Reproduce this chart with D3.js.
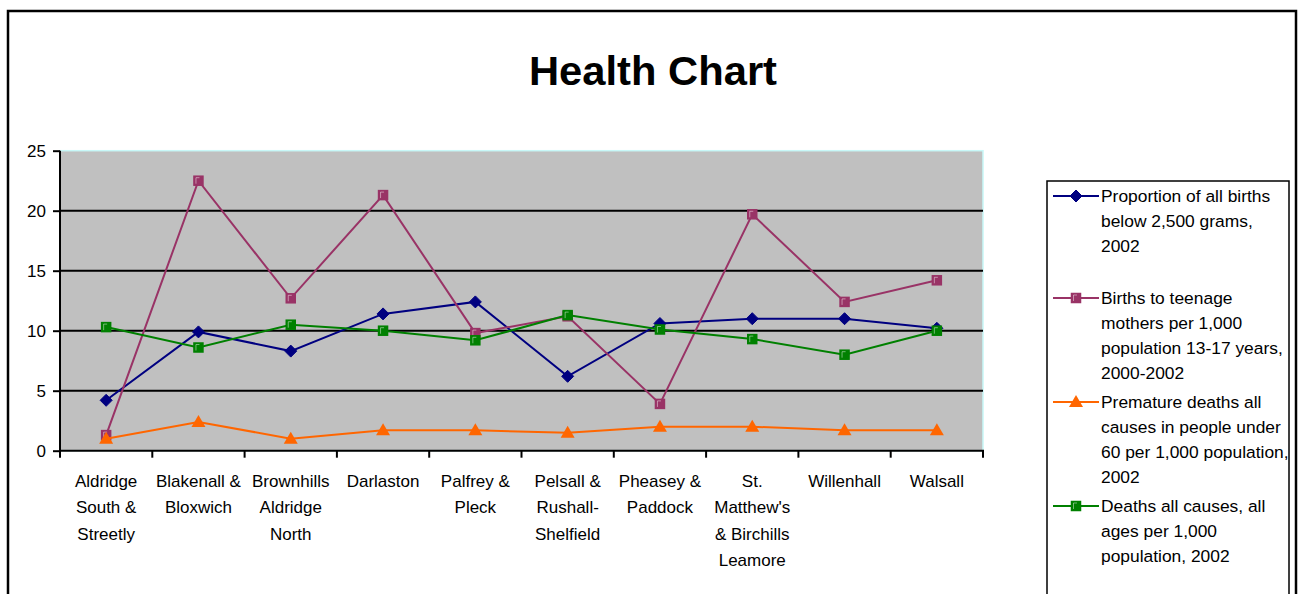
<!DOCTYPE html>
<html>
<head>
<meta charset="utf-8">
<script src="https://cdn.jsdelivr.net/npm/d3@7"></script>
<style>
  body { margin: 0; background: #fff; }
  svg { display: block; font-family: Arial, "Liberation Sans", sans-serif; }
</style>
</head>
<body>
<div id="chart"></div>
<script>
let width = 1299;
let height = 594;

// categories (line breaks as in the original axis)
const categories = [
  "Aldridge\nSouth &\nStreetly",
  "Blakenall &\nBloxwich",
  "Brownhills\nAldridge\nNorth",
  "Darlaston",
  "Palfrey &\nPleck",
  "Pelsall &\nRushall-\nShelfield",
  "Pheasey &\nPaddock",
  "St.\nMatthew's\n& Birchills\nLeamore",
  "Willenhall",
  "Walsall"
];

const lowBirthWeight = [4.2, 9.9, 8.3, 11.4, 12.4, 6.2, 10.6, 11.0, 11.0, 10.2];
const teenBirths     = [1.3, 22.5, 12.7, 21.3, 9.8, 11.2, 3.9, 19.7, 12.4, 14.2];
const prematureDeaths = [1.0, 2.4, 1.0, 1.7, 1.7, 1.5, 2.0, 2.0, 1.7, 1.7];
const allDeaths      = [10.3, 8.6, 10.5, 10.0, 9.2, 11.3, 10.1, 9.3, 8.0, 10.0];

const seriesNames = [
  "Proportion of all births\nbelow 2,500 grams,\n2002",
  "Births to teenage\nmothers per 1,000\npopulation 13-17 years,\n2000-2002",
  "Premature deaths all\ncauses in people under\n60 per 1,000 population,\n2002",
  "Deaths all causes, all\nages per 1,000\npopulation, 2002"
];
const yTicks = [0, 5, 10, 15, 20, 25];

const series = [
  {name: seriesNames[0], values: lowBirthWeight, color: "#000080", marker: "diamond"},
  {name: seriesNames[1], values: teenBirths, color: "#993366", marker: "square"},
  {name: seriesNames[2], values: prematureDeaths, color: "#FF6600", marker: "triangle"},
  {name: seriesNames[3], values: allDeaths, color: "#008000", marker: "square"}
];

const plot = {left: 60, right: 983, top: 150.7, bottom: 450.7};

const svg = d3.select("#chart").append("svg")
  .attr("width", width)
  .attr("height", height);

// outer frame
svg.append("rect")
  .attr("x", 8).attr("y", 11)
  .attr("width", 1288).attr("height", 620)
  .attr("fill", "#fff")
  .attr("stroke", "#000").attr("stroke-width", 2.5);

svg.append("text")
  .attr("x", 653).attr("y", 85)
  .attr("text-anchor", "middle")
  .attr("textLength", 248)
  .attr("lengthAdjust", "spacingAndGlyphs")
  .style("font-size", "40px").style("font-weight", "bold")
  .text("Health Chart");

let x = d3.scaleBand().domain(categories).range([plot.left, plot.right]).padding(0);
let y = d3.scaleLinear().domain([0, 25]).range([plot.bottom, plot.top]);

// plot background
svg.append("rect")
  .attr("x", plot.left).attr("y", plot.top)
  .attr("width", plot.right - plot.left).attr("height", plot.bottom - plot.top)
  .attr("fill", "#C0C0C0")
  .attr("stroke", "#C8F8F8").attr("stroke-width", 1.5);

// gridlines
svg.append("g")
  .selectAll("line")
  .data(yTicks.filter(d => d > 0 && d < 25))
  .join("line")
  .attr("x1", plot.left).attr("x2", plot.right)
  .attr("y1", d => y(d)).attr("y2", d => y(d))
  .attr("stroke", "#000").attr("stroke-width", 2);

// y axis
const yAxis = svg.append("g")
  .attr("transform", `translate(${plot.left},0)`)
  .call(d3.axisLeft(y).tickValues(yTicks).tickSize(7).tickPadding(7));
yAxis.select(".domain").attr("stroke-width", 2).attr("d", `M0,${plot.top}V${plot.bottom}`);
yAxis.selectAll(".tick line").attr("stroke-width", 2);
yAxis.selectAll(".tick text").style("font-size", "17px").style("font-family", "Arial, 'Liberation Sans', sans-serif").attr("fill", "#000");

// x axis: ticks at category boundaries
const xg = svg.append("g");
xg.append("line")
  .attr("x1", plot.left - 1).attr("x2", plot.right + 1)
  .attr("y1", plot.bottom).attr("y2", plot.bottom)
  .attr("stroke", "#000").attr("stroke-width", 2);
xg.selectAll(".xtick")
  .data(categories.concat([null]))
  .join("line")
  .attr("class", "xtick")
  .attr("x1", (d, i) => plot.left + i * x.bandwidth())
  .attr("x2", (d, i) => plot.left + i * x.bandwidth())
  .attr("y1", plot.bottom).attr("y2", plot.bottom + 7)
  .attr("stroke", "#000").attr("stroke-width", 2);

xg.selectAll(".xlabel")
  .data(categories)
  .join("text")
  .attr("class", "xlabel")
  .attr("text-anchor", "middle")
  .style("font-size", "17px")
  .selectAll("tspan")
  .data(d => d.split("\n").map(t => ({t, c: d})))
  .join("tspan")
  .attr("x", d => x(d.c) + x.bandwidth() / 2)
  .attr("y", (d, i) => 487 + i * 26.3)
  .text(d => d.t);

// markers
function drawMarker(g, type, color, cx, cy) {
  if (type === "diamond") {
    g.append("path")
      .attr("d", `M${cx},${cy - 6}L${cx + 6},${cy}L${cx},${cy + 6}L${cx - 6},${cy}Z`)
      .attr("fill", color).attr("stroke", color).attr("stroke-width", 1);
  } else if (type === "square") {
    g.append("rect")
      .attr("x", cx - 4.5).attr("y", cy - 4.5)
      .attr("width", 9).attr("height", 9)
      .attr("fill", color).attr("stroke", color).attr("stroke-width", 1.5);
    g.append("path")
      .attr("d", `M${cx - 2.5},${cy + 3}V${cy - 3}H${cx + 1}`)
      .attr("fill", "none").attr("stroke", "#fff").attr("stroke-opacity", 0.45).attr("stroke-width", 1);
  } else {
    g.append("path")
      .attr("d", `M${cx},${cy - 7}L${cx + 7},${cy + 5}L${cx - 7},${cy + 5}Z`)
      .attr("fill", color);
  }
}

let line = d3.line()
  .x((d, i) => x(categories[i]) + x.bandwidth() / 2)
  .y(d => y(d));

series.forEach(s => {
  const g = svg.append("g");
  g.append("path")
    .attr("d", line(s.values))
    .attr("fill", "none")
    .attr("stroke", s.color)
    .attr("stroke-width", 2);
  s.values.forEach((v, i) => {
    drawMarker(g, s.marker, s.color, x(categories[i]) + x.bandwidth() / 2, y(v));
  });
});

// legend
const legendX = 1047, legendY = 181;
svg.append("rect")
  .attr("x", legendX).attr("y", legendY)
  .attr("width", 242).attr("height", 450)
  .attr("fill", "#fff")
  .attr("stroke", "#000").attr("stroke-width", 1.5);

const entryY = [196, 298, 402, 506];
series.forEach((s, i) => {
  const g = svg.append("g");
  const ly = entryY[i];
  g.append("line")
    .attr("x1", 1053).attr("x2", 1099)
    .attr("y1", ly).attr("y2", ly)
    .attr("stroke", s.color).attr("stroke-width", 2);
  drawMarker(g, s.marker, s.color, 1076, ly);
  g.append("text")
    .style("font-size", "17.4px")
    .selectAll("tspan")
    .data(s.name.split("\n"))
    .join("tspan")
    .attr("x", 1101)
    .attr("y", (d, j) => ly + 6 + j * 25)
    .text(d => d);
});
</script>
</body>
</html>
